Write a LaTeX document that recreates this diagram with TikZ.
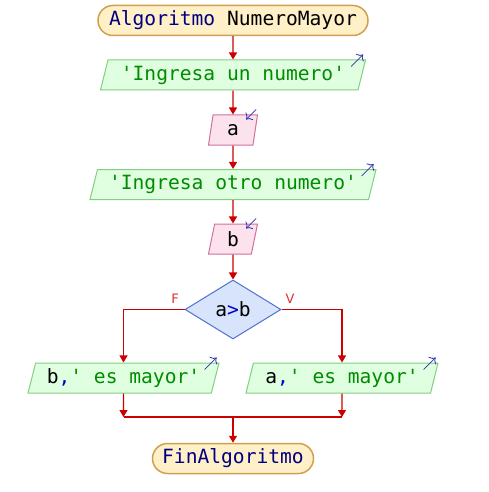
\documentclass[tikz,border=0pt]{standalone}
\usepackage{fontspec}
\setmonofont{DejaVu Sans Mono}
\setsansfont{DejaVu Sans}
\usepackage{xcolor}
\usetikzlibrary{arrows.meta,shapes.geometric,calc}

\definecolor{lnred}{RGB}{204,0,0}
\definecolor{lblred}{RGB}{224,48,48}
\definecolor{kwblue}{RGB}{0,0,128}
\definecolor{opblue}{RGB}{0,0,200}
\definecolor{strgreen}{RGB}{0,140,0}
\definecolor{termfill}{RGB}{255,240,200}
\definecolor{termdraw}{RGB}{208,160,80}
\definecolor{outfill}{RGB}{224,255,224}
\definecolor{outdraw}{RGB}{128,208,128}
\definecolor{infill}{RGB}{252,226,236}
\definecolor{indraw}{RGB}{208,112,160}
\definecolor{condfill}{RGB}{216,228,252}
\definecolor{conddraw}{RGB}{80,112,208}
\definecolor{ioarrow}{RGB}{48,48,176}

\newcommand{\kw}[1]{\textcolor{kwblue}{#1}}
\newcommand{\str}[1]{\textcolor{strgreen}{#1}}
\newcommand{\op}[1]{\textcolor{opblue}{#1}}

\tikzset{
  every node/.style={font=\ttfamily\fontsize{9.8}{12}\selectfont},
  terminal/.style={draw=termdraw, fill=termfill, line width=0.75pt,
    rounded corners=7.5pt, minimum height=15pt, inner sep=0pt},
  iobox/.style={trapezium, trapezium left angle=68, trapezium right angle=112,
    trapezium stretches body, minimum height=15pt, inner sep=0pt, line width=0.5pt},
  outbox/.style={iobox, draw=outdraw, fill=outfill},
  inbox/.style={iobox, draw=indraw, fill=infill},
  decision/.style={diamond, draw=conddraw, fill=condfill, line width=0.5pt,
    minimum width=48pt, minimum height=29.5pt, inner sep=0pt},
  flow/.style={draw=lnred, line width=0.6pt, -{Triangle[width=4pt,length=3.5pt]}},
  branch/.style={text=lblred, font=\sffamily\fontsize{6.5}{8}\selectfont},
  iomark/.style={draw=ioarrow, line width=0.4pt, -{To[length=2.5pt]}}
}

\begin{document}
\begin{tikzpicture}[x=0.5pt,y=-0.5pt]
  \useasboundingbox (0,0) rectangle (488,492);

  \node[terminal, minimum width=135pt] (inicio) at (233,20.5) {\kw{Algoritmo} NumeroMayor};
  \node[outbox, minimum width=132.5pt] (msg1) at (233,75) {\str{'Ingresa un numero'}};
  \node[inbox, minimum width=24.5pt] (leea) at (233,130) {a};
  \node[outbox, minimum width=143pt] (msg2) at (233,184.5) {\str{'Ingresa otro numero'}};
  \node[inbox, minimum width=24.5pt] (leeb) at (233,239) {b};
  \node[decision] (cond) at (233,309.5) {a\op{>}b};
  \node[outbox, minimum width=95.5pt] (msgb) at (123.5,378) {b\op{,}\str{' es mayor'}};
  \node[outbox, minimum width=96pt] (msga) at (342,378) {a\op{,}\str{' es mayor'}};
  \node[terminal, minimum width=80.5pt] (fin) at (233,458.5) {\kw{FinAlgoritmo}};

  % marcas de entrada / salida
  \foreach \n in {msg1,msg2,msgb,msga}
    \draw[iomark] ($(\n.top right corner)+(-15,7)$) -- ($(\n.top right corner)+(-3,-5)$);
  \foreach \n in {leea,leeb}
    \draw[iomark] ($(\n.top right corner)+(-2,-5)$) -- ($(\n.top right corner)+(-12,5)$);

  \draw[flow] (inicio) -- (msg1);
  \draw[flow] (msg1) -- (leea);
  \draw[flow] (leea) -- (msg2);
  \draw[flow] (msg2) -- (leeb);
  \draw[flow] (leeb) -- (cond);

  \draw[flow] (cond.west) -| (msgb.north);
  \draw[flow] (cond.east) -| (msga.north);
  \node[branch] (rf) at (175,299) {F};
  \node[branch] (rv) at (290,299) {V};

  \coordinate (jb) at (123.5,417);
  \coordinate (ja) at (342,417);
  \coordinate (jm) at (233,417);
  \draw[flow] (msgb.south) -- (jb);
  \draw[flow] (msga.south) -- (ja);
  \draw[draw=lnred, line width=0.6pt] (jb) -- (ja);
  \draw[flow] (jm) -- (fin);
\end{tikzpicture}
\end{document}
